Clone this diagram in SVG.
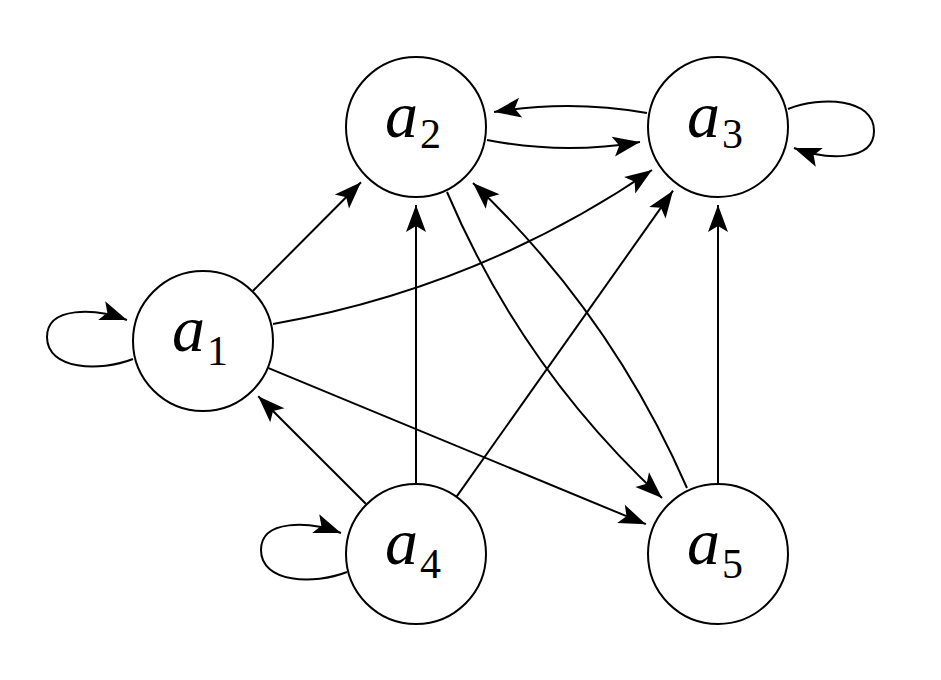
<svg xmlns="http://www.w3.org/2000/svg" width="941" height="680" viewBox="0 0 941 680">
<style>
.node circle{fill:#fff;stroke:#000;stroke-width:2}
.lbl{font-family:"Liberation Serif","Times New Roman",serif;font-style:italic;font-size:66px;fill:#000}
.sub{font-style:normal;font-size:42px}
.edge{fill:none;stroke:#000;stroke-width:2;marker-end:url(#arr)}
</style>
<defs>
<marker id="arr" markerUnits="userSpaceOnUse" viewBox="-28 -11 29 22" markerWidth="29" markerHeight="22" refX="0" refY="0" orient="auto">
<path d="M0,0 L-27,-10 L-21,0 L-27,10 Z" fill="#000"/>
</marker>
</defs>
<rect width="941" height="680" fill="#fff"/>
<g id="connectors">
<path class="edge" d="M253.1,290.7 L361,182.3"/>
<path class="edge" d="M273,324 Q479.1,287.8 652,170"/>
<path class="edge" d="M268.6,368.1 L645.9,524.2"/>
<path class="edge" d="M365.8,503.8 L258.2,396.2"/>
<path class="edge" d="M416,484 L416,205"/>
<path class="edge" d="M456.4,496.9 L673,190.7"/>
<path class="edge" d="M718,484 L718,205"/>
<path class="edge" d="M447,192 Q521.8,368 662,498"/>
<path class="edge" d="M687,488 Q611.1,313.7 473,183"/>
<path class="edge" d="M487,140 Q563.5,155 640,142"/>
<path class="edge" d="M647,113 Q570.5,99.5 494,112"/>
<path class="edge" d="M133,359 C100,372 47,370 47,337 C47,306 95,308 127,320"/>
<path class="edge" transform="translate(214,213)" d="M133,359 C100,372 47,370 47,337 C47,306 95,308 127,320"/>
<path class="edge" transform="matrix(-1,0,0,-1,921,468)" d="M133,359 C100,372 47,370 47,337 C47,306 95,308 127,320"/>
</g>
<g id="a1" class="node"><circle cx="203" cy="341" r="70"/><text class="lbl" x="172" y="351">a<tspan class="sub" x="207" y="365">1</tspan></text></g>
<g id="a2" class="node"><circle cx="416" cy="127" r="70"/><text class="lbl" x="385" y="137">a<tspan class="sub" x="420" y="148">2</tspan></text></g>
<g id="a3" class="node"><circle cx="718" cy="127" r="70"/><text class="lbl" x="687" y="137">a<tspan class="sub" x="722" y="148">3</tspan></text></g>
<g id="a4" class="node"><circle cx="416" cy="554" r="70"/><text class="lbl" x="385" y="564">a<tspan class="sub" x="420" y="578">4</tspan></text></g>
<g id="a5" class="node"><circle cx="718" cy="554" r="70"/><text class="lbl" x="687" y="564">a<tspan class="sub" x="722" y="578">5</tspan></text></g>
</svg>
